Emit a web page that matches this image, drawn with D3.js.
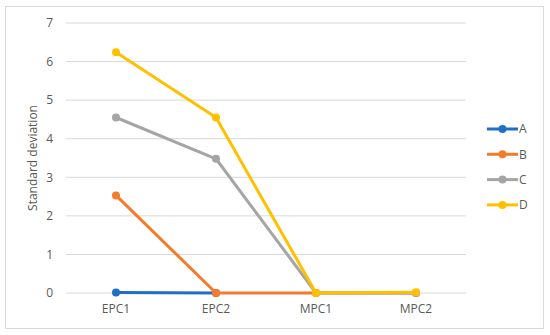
<!DOCTYPE html>
<html>
<head>
<meta charset="utf-8">
<script src="https://cdn.jsdelivr.net/npm/d3@7"></script>
<style>
  body { margin: 0; background: #fff; }
  text { font-family: "Open Sans", "Liberation Sans", sans-serif; fill: #595959; }
</style>
</head>
<body>
<div id="chart"></div>
<script>
var categories = ['EPC1', 'EPC2', 'MPC1', 'MPC2'];
var seriesNames = ['A', 'B', 'C', 'D'];
var valuesA = [0.01, 0, null, null];
var valuesB = [2.53, 0, 0, 0];
var valuesC = [4.55, 3.48, 0, 0];
var valuesD = [6.24, 4.55, 0, 0.02];
var yTicks = [0, 1, 2, 3, 4, 5, 6, 7];
var colors = ['#1f6fc6', '#f47b2a', '#a5a5a5', '#ffc000'];

var series = [valuesA, valuesB, valuesC, valuesD].map(function(v, i) {
  return { name: seriesNames[i], color: colors[i], values: v };
});

var width = 550, height = 335;
var margin = {top: 23, right: 84, bottom: 42, left: 66};

var svg = d3.select('#chart').append('svg')
  .attr('width', width)
  .attr('height', height);

svg.append('rect')
  .attr('x', 5.5).attr('y', 6.5)
  .attr('width', 538).attr('height', 322)
  .attr('fill', '#fff')
  .attr('stroke', '#d9d9d9');

var x = d3.scaleBand()
  .domain(categories)
  .range([margin.left, width - margin.right]);

var y = d3.scaleLinear()
  .domain([0, 7])
  .range([height - margin.bottom, margin.top]);

// gridlines
svg.append('g')
  .selectAll('line')
  .data(yTicks)
  .join('line')
  .attr('x1', margin.left)
  .attr('x2', width - margin.right)
  .attr('y1', function(d) { return y(d); })
  .attr('y2', function(d) { return y(d); })
  .attr('stroke', '#d9d9d9')
  .attr('stroke-width', 1);

var yAxis = svg.append('g')
  .attr('transform', 'translate(' + margin.left + ',0)')
  .call(d3.axisLeft(y).tickValues(yTicks).tickFormat(d3.format('d')).tickSize(0).tickPadding(13));
yAxis.select('.domain').remove();
yAxis.selectAll('text').style('font-size', '12px').style('fill', '#595959');

var xAxis = svg.append('g')
  .attr('transform', 'translate(0,' + (height - margin.bottom) + ')')
  .call(d3.axisBottom(x).tickSize(0).tickPadding(11));
xAxis.select('.domain').remove();
xAxis.selectAll('text').style('font-size', '12px').style('fill', '#595959');

svg.append('text')
  .attr('transform', 'translate(33,' + ((margin.top + height - margin.bottom) / 2) + ') rotate(-90)')
  .attr('text-anchor', 'middle')
  .attr('dy', '0.35em')
  .style('font-size', '12px')
  .text('Standard deviation');

var line = d3.line()
  .defined(function(d) { return d != null; })
  .x(function(d, i) { return x(categories[i]) + x.bandwidth() / 2; })
  .y(function(d) { return y(d); });

var groups = svg.append('g').selectAll('g')
  .data(series)
  .join('g');

groups.append('path')
  .attr('d', function(s) { return line(s.values); })
  .attr('fill', 'none')
  .attr('stroke', function(s) { return s.color; })
  .attr('stroke-width', 3)
  .attr('stroke-linejoin', 'round');

groups.selectAll('circle')
  .data(function(s) {
    return s.values.map(function(v, i) { return {v: v, i: i, color: s.color}; })
      .filter(function(d) { return d.v != null; });
  })
  .join('circle')
  .attr('cx', function(d) { return x(categories[d.i]) + x.bandwidth() / 2; })
  .attr('cy', function(d) { return y(d.v); })
  .attr('r', 4)
  .attr('fill', function(d) { return d.color; });

// legend
var legend = svg.append('g').selectAll('g')
  .data(series)
  .join('g')
  .attr('transform', function(d, i) { return 'translate(487,' + (129 + i * 25.3) + ')'; });

legend.append('line')
  .attr('x1', 0).attr('x2', 31)
  .attr('stroke', function(d) { return d.color; })
  .attr('stroke-width', 3);
legend.append('circle')
  .attr('cx', 15.5).attr('r', 4)
  .attr('fill', function(d) { return d.color; });
legend.append('text')
  .attr('x', 32).attr('dy', '0.35em')
  .style('font-size', '12px')
  .text(function(d) { return d.name; });
</script>
</body>
</html>
